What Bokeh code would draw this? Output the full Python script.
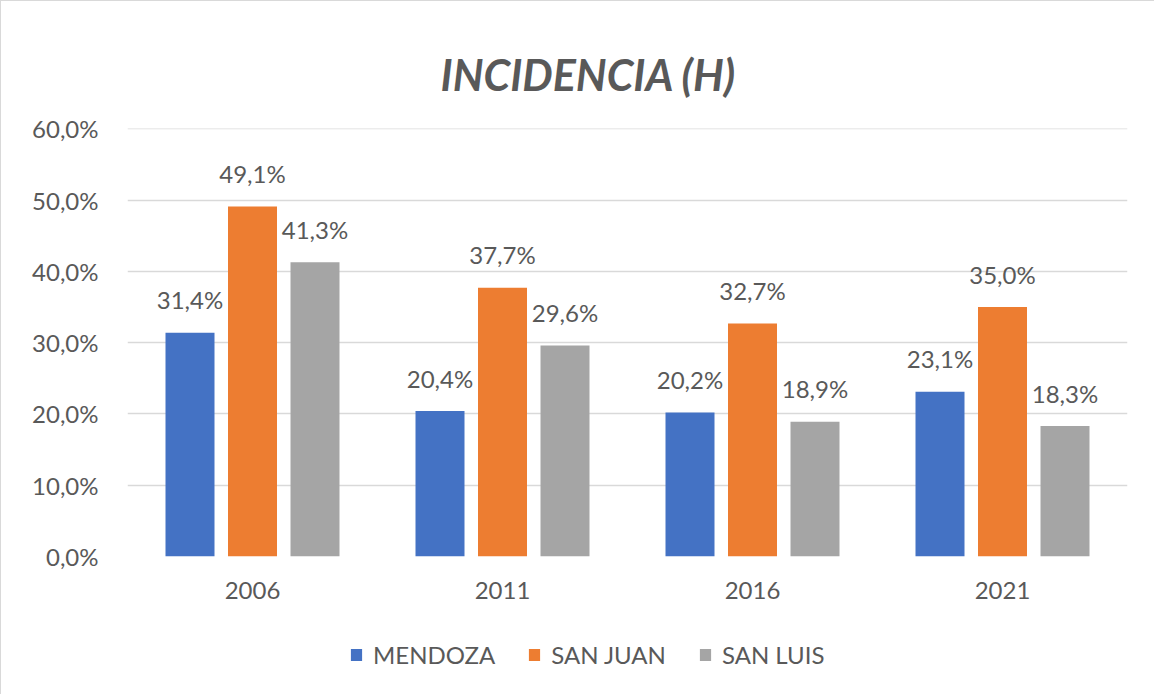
from bokeh.plotting import figure
from bokeh.layouts import column
from bokeh.models import (FactorRange, Range1d, FixedTicker, Legend, LegendItem,
                          ColumnDataSource)
from bokeh.transform import dodge
from bokeh.core.properties import value
from bokeh.embed import file_html
from bokeh.resources import INLINE

years = ["2006", "2011", "2016", "2021"]
mendoza = [31.4, 20.4, 20.2, 23.1]
san_juan = [49.1, 37.7, 32.7, 35.0]
san_luis = [41.3, 29.6, 18.9, 18.3]
series_names = ["MENDOZA", "SAN JUAN", "SAN LUIS"]
colors = ["#4472C4", "#ED7D31", "#A5A5A5"]
y_ticks = [0, 10, 20, 30, 40, 50, 60]
title_text = "INCIDENCIA (H)"

FONT = "Lato"
TXT = "#595959"

def fmt(v):
    return f"{v:.1f}".replace(".", ",") + "%"

src = ColumnDataSource(dict(
    year=years,
    m=mendoza, j=san_juan, l=san_luis,
    m_lab=[fmt(v) for v in mendoza],
    j_lab=[fmt(v) for v in san_juan],
    l_lab=[fmt(v) for v in san_luis],
))

p = figure(width=1154, height=615, x_range=FactorRange(*years), y_range=Range1d(0, 60.05),
           output_backend="svg", toolbar_location=None,
           min_border_left=126, min_border_right=28, min_border_top=127, min_border_bottom=60)
p.styles = {"border-top": "1px solid #D9D9D9", "border-left": "1px solid #D9D9D9"}
p.outline_line_color = None
p.background_fill_color = "white"
p.border_fill_color = "white"

p.title.text = title_text
p.title.align = "left"
p.title.offset = 313
p.title.text_font = FONT
p.title.text_font_size = "43px"
p.title.text_font_style = "bold italic"
p.title.text_color = TXT
p.title.standoff = 58

p.xgrid.grid_line_color = None
p.ygrid.grid_line_color = "#D9D9D9"
p.ygrid.grid_line_width = 1.3

p.yaxis.ticker = FixedTicker(ticks=y_ticks)
p.yaxis.major_label_overrides = {t: fmt(t) for t in y_ticks}
for ax in (p.xaxis, p.yaxis):
    ax.axis_line_color = None
    ax.major_tick_line_color = None
    ax.minor_tick_line_color = None
    ax.major_tick_out = 0
    ax.major_tick_in = 0
    ax.major_label_text_font = FONT
    ax.major_label_text_font_size = "24px"
    ax.major_label_text_color = TXT
p.yaxis.major_label_standoff = 29
p.xaxis.major_label_standoff = 25

offsets = [-0.25, 0.0, 0.25]
cols = ["m", "j", "l"]
for off, col, c in zip(offsets, cols, colors):
    p.vbar(x=dodge("year", off, range=p.x_range), top=col, width=0.196, source=src,
           fill_color=c, line_color=None)
    p.text(x=dodge("year", off, range=p.x_range), y=col, text=col + "_lab", source=src,
           text_font=value(FONT), text_font_size="24px", text_color=TXT,
           text_align="center", text_baseline="alphabetic", y_offset=-33)

# legend strip below the chart (its bars lie outside its visible range)
pl = figure(width=1154, height=79, x_range=FactorRange(*years), y_range=Range1d(100, 101),
            output_backend="svg", toolbar_location=None,
            x_axis_location=None, y_axis_location=None,
            min_border_left=0, min_border_right=0, min_border_top=0, min_border_bottom=0)
pl.styles = {"border-left": "1px solid #D9D9D9"}
pl.outline_line_color = None
pl.xgrid.visible = False
pl.ygrid.visible = False
items = []
for n, col, c in zip(series_names, cols, colors):
    r = pl.vbar(x="year", top=col, width=0.1, source=src, fill_color=c, line_color=None)
    items.append(LegendItem(label=n, renderers=[r]))
legend = Legend(items=items, location=(222, 25), orientation="horizontal",
                label_text_font=FONT, label_text_font_size="24px", label_text_color=TXT,
                glyph_width=14, glyph_height=15, label_standoff=10, spacing=32,
                padding=0, margin=0, border_line_color=None, background_fill_alpha=0)
pl.add_layout(legend, "center")

layout = column(p, pl, spacing=0)
open("out.html", "w").write(file_html(layout, INLINE))
